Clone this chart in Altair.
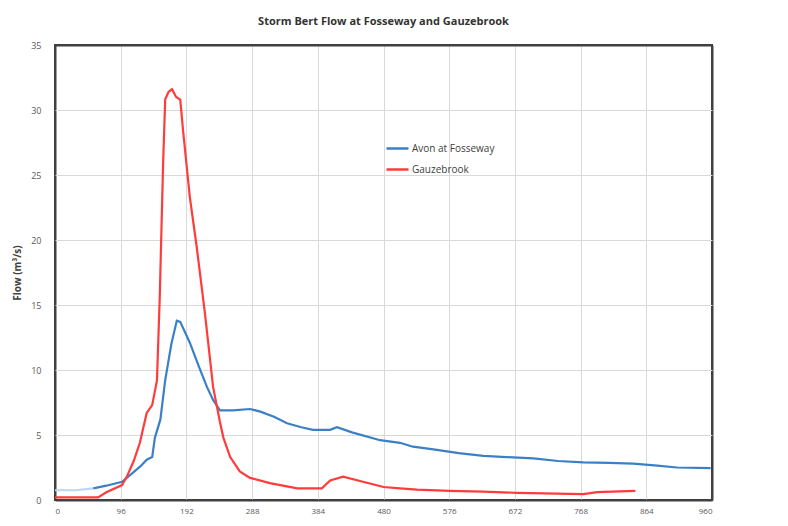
import altair as alt
import pandas as pd

# Avon at Fosseway (15-minute intervals)
avon_t = [0, 30, 56, 75, 98, 114, 125, 134, 142, 146, 154, 161, 170, 178, 183, 190, 197, 210, 222, 231,
          241, 260, 285, 300, 320, 339, 360, 377, 402, 412, 434, 475, 504, 523, 553, 590, 626, 660, 699,
          735, 772, 810, 845, 880, 909, 958]
avon_f = [0.75, 0.75, 0.9, 1.1, 1.4, 2.1, 2.6, 3.1, 3.3, 4.8, 6.2, 9.2, 12.0, 13.8, 13.7, 12.9, 12.1, 10.3,
          8.7, 7.7, 6.9, 6.9, 7.0, 6.8, 6.4, 5.9, 5.6, 5.4, 5.4, 5.6, 5.2, 4.6, 4.4, 4.1, 3.9, 3.6, 3.4,
          3.3, 3.2, 3.0, 2.9, 2.85, 2.8, 2.65, 2.5, 2.45]

# Gauzebrook
gauze_t = [0, 63, 75, 98, 105, 115, 124, 134, 142, 149, 153, 158, 161, 166, 171, 177, 183, 187, 197, 207,
           219, 231, 241, 246, 256, 270, 285, 314, 354, 390, 402, 421, 450, 480, 504, 529, 577, 625, 675,
           772, 792, 848]
gauze_f = [0.2, 0.2, 0.6, 1.15, 1.8, 3.0, 4.4, 6.7, 7.3, 9.2, 15.5, 25.9, 30.8, 31.4, 31.6, 31.0, 30.8,
           28.5, 23.3, 19.5, 14.4, 8.7, 6.0, 4.8, 3.3, 2.2, 1.7, 1.3, 0.9, 0.9, 1.5, 1.8, 1.4, 1.0, 0.9,
           0.8, 0.7, 0.65, 0.55, 0.45, 0.6, 0.7]

series_names = ["Avon at Fosseway", "Gauzebrook"]
series_colors = ["#3b80c6", "#ff3b3b"]
x_ticks = [0, 96, 192, 288, 384, 480, 576, 672, 768, 864, 960]
y_ticks = [0, 5, 10, 15, 20, 25, 30, 35]

rows = []
for i, (t, f) in enumerate(zip(avon_t, avon_f)):
    if i >= 2:
        rows.append({"t": t, "flow": f, "series": series_names[0]})
for t, f in zip(gauze_t, gauze_f):
    rows.append({"t": t, "flow": f, "series": series_names[1]})
df = pd.DataFrame(rows)

faint = pd.DataFrame({"t": avon_t[:3], "flow": avon_f[:3]})

x_edge = "datum.value == 0 || datum.value == 960"
y_edge = "datum.value == 0 || datum.value == 35"

x_enc = alt.X("t:Q", scale=alt.Scale(domain=[0, 960], nice=False),
              axis=alt.Axis(values=x_ticks, title=None, labelFontSize=8, labelColor="#595959",
                            ticks=False, domain=False, labelPadding=7,
                            gridColor=alt.ExprRef(expr=f"{x_edge} ? '#404040' : '#d9d9d9'"),
                            gridWidth=alt.ExprRef(expr=f"{x_edge} ? 2 : 1")))
y_enc = alt.Y("flow:Q", scale=alt.Scale(domain=[0, 35], nice=False),
              axis=alt.Axis(values=y_ticks, title="Flow (m³/s)", labelFontSize=9, labelColor="#595959",
                            ticks=False, domain=False, labelPadding=14,
                            gridColor=alt.ExprRef(expr=f"{y_edge} ? '#404040' : '#d9d9d9'"),
                            gridWidth=alt.ExprRef(expr=f"{y_edge} ? 2 : 1"),
                            titleFontSize=10, titleFontWeight="bold", titleColor="#404040",
                            titlePadding=8))

faint_line = alt.Chart(faint).mark_line(color="#bcd6ee", strokeWidth=2.2).encode(x=x_enc, y=y_enc)

lines = alt.Chart(df).mark_line(strokeWidth=2.2).encode(
    x=x_enc,
    y=y_enc,
    color=alt.Color("series:N",
                    scale=alt.Scale(domain=series_names, range=series_colors),
                    legend=alt.Legend(title=None, orient="none", legendX=330, legendY=91,
                                      symbolType="stroke", symbolSize=484, symbolStrokeWidth=2.5,
                                      labelFontSize=10, labelColor="#404040", rowPadding=3,
                                      labelOffset=2)),
)

chart = (faint_line + lines).properties(
    width=657, height=455,
    title=alt.TitleParams("Storm Bert Flow at Fosseway and Gauzebrook", fontSize=11,
                          fontWeight="bold", color="#333333", offset=14, anchor="middle"),
    autosize=alt.AutoSizeParams(type="none"),
    padding={"left": 47, "top": 37, "right": 68, "bottom": 18},
).configure(font="Open Sans").configure_view(stroke="#404040", strokeWidth=2)

chart.save("out.html", embed_options={"renderer": "svg", "actions": False})
